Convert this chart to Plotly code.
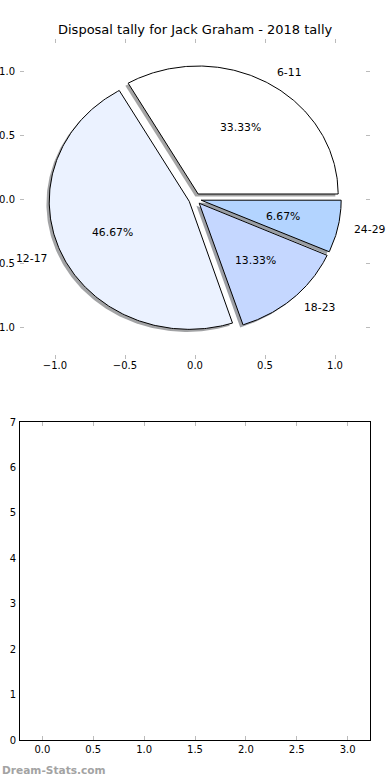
import numpy as np
import plotly.graph_objects as go

# ---- data ----
labels = ["6-11", "12-17", "18-23", "24-29"]
counts = [5, 7, 2, 1]
colors = ["#FFFFFF", "#EBF2FF", "#C5D7FF", "#B3D4FF"]
explode = [0.045, 0.045, 0.045, 0.045]
title = "Disposal tally for Jack Graham - 2018 tally"
pie_ticks = [-1.0, -0.5, 0.0, 0.5, 1.0]
bar_xticks = [0.0, 0.5, 1.0, 1.5, 2.0, 2.5, 3.0]
bar_yticks = [0, 1, 2, 3, 4, 5, 6, 7]

W, H = 390, 780
FONT = "DejaVu Sans"


def fx(p):
    return p / W


def fy(p):
    return 1 - p / H


def hex2rgb(h):
    h = h.lstrip("#")
    return tuple(int(h[i:i + 2], 16) for i in (0, 2, 4))


fracs = np.array(counts, dtype=float) / sum(counts)
theta = 360.0 * np.concatenate([[0.0], np.cumsum(fracs)])

fig = go.Figure()
shadows, wedges, annots = [], [], []
for i, lab in enumerate(labels):
    t1, t2 = theta[i], theta[i + 1]
    tm = np.deg2rad((t1 + t2) / 2)
    cx, cy = explode[i] * np.cos(tm), explode[i] * np.sin(tm)
    arc = np.deg2rad(np.linspace(t1, t2, 200))
    xs = np.concatenate([[cx], cx + np.cos(arc), [cx]])
    ys = np.concatenate([[cy], cy + np.sin(arc), [cy]])
    r, g, b = hex2rgb(colors[i])
    shadows.append(go.Scatter(
        x=xs - 0.02, y=ys - 0.02, mode="lines", fill="toself",
        fillcolor=f"rgba({int(0.3*r)},{int(0.3*g)},{int(0.3*b)},0.5)",
        line=dict(width=0), hoverinfo="skip", xaxis="x", yaxis="y"))
    wedges.append(go.Scatter(
        x=xs, y=ys, mode="lines", fill="toself", fillcolor=colors[i],
        line=dict(color="black", width=1), hoverinfo="skip",
        xaxis="x", yaxis="y"))
    lx, ly = cx + 1.1 * np.cos(tm), cy + 1.1 * np.sin(tm)
    annots.append(dict(x=lx, y=ly, xref="x", yref="y", text=lab,
                       showarrow=False, xanchor="left" if lx > 0 else "right",
                       yanchor="middle", font=dict(family=FONT, size=10.8, color="black")))
    px_, py_ = cx + 0.6 * np.cos(tm), cy + 0.6 * np.sin(tm)
    annots.append(dict(x=px_, y=py_, xref="x", yref="y",
                       text=f"{100*fracs[i]:.2f}%", showarrow=False,
                       xanchor="center", yanchor="middle",
                       font=dict(family=FONT, size=10.8, color="black")))

for t in shadows + wedges:
    fig.add_trace(t)

fig.add_trace(go.Scatter(x=[], y=[], xaxis="x2", yaxis="y2", hoverinfo="skip"))

annots.append(dict(x=0.5, y=fy(30), xref="paper", yref="paper", text=title,
                   showarrow=False, xanchor="center", yanchor="middle",
                   font=dict(family=FONT, size=13, color="black")))
annots.append(dict(x=0, y=fy(770), xref="paper", yref="paper", text="<b>Dream-Stats.com</b>",
                   showarrow=False, xanchor="left", yanchor="middle",
                   font=dict(family=FONT, size=10.6, color="#a3a3a3")))

tickfont = dict(family=FONT, size=10, color="black")
common = dict(showgrid=False, zeroline=False, automargin=False, tickfont=tickfont,
              ticks="inside", ticklen=4, tickcolor="#bbbbbb", tickwidth=1)

fig.update_layout(
    width=W, height=H, margin=dict(l=0, r=0, t=0, b=0),
    paper_bgcolor="white", plot_bgcolor="white", showlegend=False,
    annotations=annots,
    xaxis=dict(domain=[fx(20), fx(370)], range=[-1.25, 1.25], tickvals=pie_ticks,
               tickformat=".1f", showline=True, linecolor="rgba(0,0,0,0)",
               mirror="ticks", anchor="y", ticklabelstandoff=-3, **common),
    yaxis=dict(domain=[fy(359), fy(39)], range=[-1.25, 1.25], tickvals=pie_ticks,
               tickformat=".1f", showline=True, linecolor="rgba(0,0,0,0)",
               mirror="ticks", anchor="x", ticklabelstandoff=2, **common),
    xaxis2=dict(domain=[fx(20), fx(370)], range=[-0.22, 3.22], tickvals=bar_xticks,
                tickformat=".1f", showline=True, linecolor="black", linewidth=1,
                mirror="ticks", anchor="y2", **common),
    yaxis2=dict(domain=[fy(740), fy(422)], range=[0, 7], tickvals=bar_yticks,
                showline=True, linecolor="black", linewidth=1, mirror=True,
                anchor="x2", showgrid=False, zeroline=False, automargin=False,
                tickfont=tickfont, ticks="", ticklabelstandoff=1),
)

fig.write_html(
    "out.html",
    config={"displayModeBar": False},
    post_script="document.body.style.margin='0';document.body.style.overflow='hidden';",
)
